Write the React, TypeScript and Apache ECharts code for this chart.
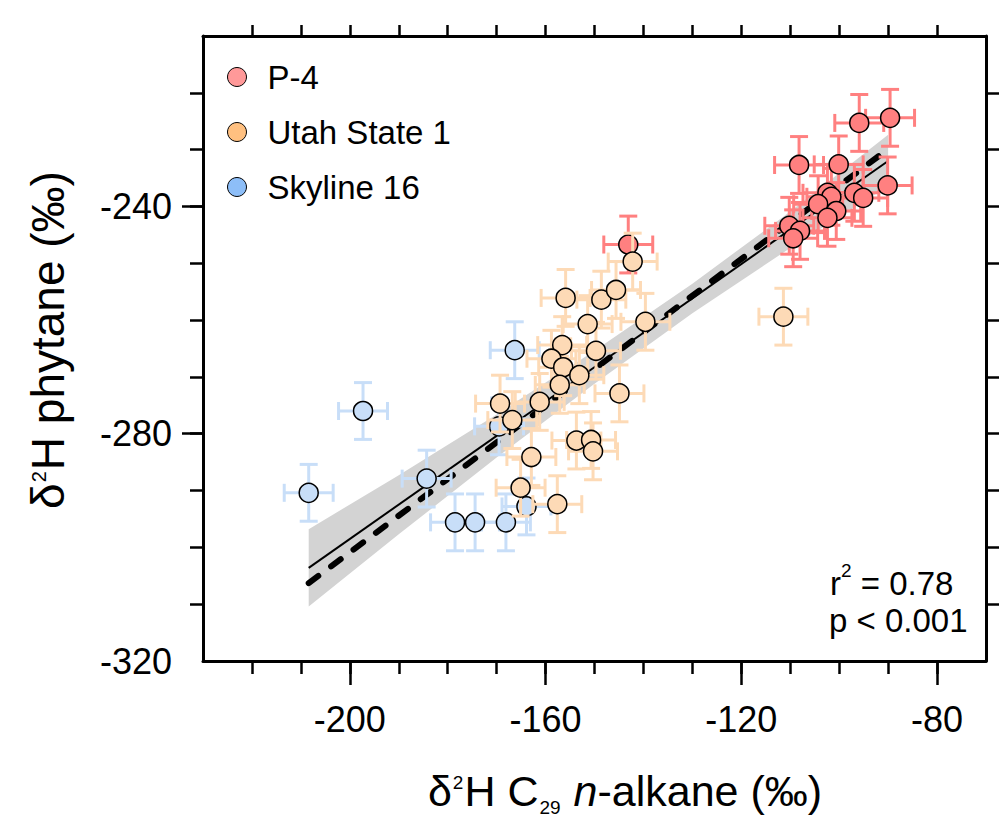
import React, { useEffect, useRef } from "react";
import * as echarts from "echarts";

// ---- data ----
const p4X = [-95.9, -89.6, -108.2, -100.1, -90.1, -102.4, -101.6, -96.9, -95.1, -104.3, -100.6, -102.4, -110.2, -108.0, -109.4, -143.1];
const p4Y = [-225.3, -224.4, -232.7, -232.6, -236.3, -237.6, -238.3, -237.6, -238.5, -239.6, -240.8, -242.0, -243.4, -244.3, -245.6, -246.7];

const utahX = [-142.2, -155.9, -148.6, -145.6, -151.4, -139.6, -156.6, -149.7, -158.8, -156.4, -153.1, -157.1, -144.9, -161.2, -169.3, -166.8, -153.7, -150.7, -150.3, -162.9, -165.1, -157.6, -111.4];
const utahY = [-249.7, -256.1, -256.4, -254.7, -260.7, -260.3, -264.4, -265.4, -266.8, -268.3, -269.7, -271.4, -272.9, -274.4, -274.7, -277.6, -281.2, -281.1, -283.1, -284.1, -289.5, -292.4, -259.4];

const skyX = [-166.3, -197.3, -208.4, -184.3, -178.5, -174.4, -168.1, -163.9, -169.5];
const skyY = [-265.3, -276.0, -290.4, -287.9, -295.6, -295.6, -295.6, -292.8, -278.7];

const ERR_X = 5;
const ERR_Y = 5;

const solidX = [-208.4, -90.0];
const solidY = [-303.6, -232.0];
const dashX = [-208.4, -90.0];
const dashY = [-306.3, -229.9];

const bandX = [-208.4, -190, -170, -150, -130, -110, -90];
const bandUpper = [-296.8, -287.3, -276.6, -265.4, -253.6, -240.9, -227.4];
const bandLower = [-310.4, -297.7, -284.2, -271.2, -258.8, -247.3, -236.4];

const X_MIN = -230, X_MAX = -70, Y_MIN = -320, Y_MAX = -210;
const xMinorTicks = [-220, -210, -200, -190, -180, -170, -160, -150, -140, -130, -120, -110, -100, -90, -80];
const xMajorTicks = [-200, -160, -120, -80];
const xLabels = [-200, -160, -120, -80];
const yMinorTicks = [-310, -300, -290, -280, -270, -260, -250, -240, -230, -220];
const yMajorTicks = [-280, -240];
const yLabels = [-320, -280, -240];

const seriesNames = ["P-4", "Utah State 1", "Skyline 16"];

const FONT = "'Liberation Sans', Arial, sans-serif";

const errRender = (color: string) => (params: any, api: any) => {
  const x = api.value(0), y = api.value(1);
  const l = api.coord([x - ERR_X, y]);
  const r = api.coord([x + ERR_X, y]);
  const t = api.coord([x, y + ERR_Y]);
  const b = api.coord([x, y - ERR_Y]);
  const cap = 9;
  const st = { stroke: color, lineWidth: 3 };
  return {
    type: "group",
    children: [
      { type: "line", shape: { x1: l[0], y1: l[1], x2: r[0], y2: r[1] }, style: st },
      { type: "line", shape: { x1: l[0], y1: l[1] - cap, x2: l[0], y2: l[1] + cap }, style: st },
      { type: "line", shape: { x1: r[0], y1: r[1] - cap, x2: r[0], y2: r[1] + cap }, style: st },
      { type: "line", shape: { x1: t[0], y1: t[1], x2: b[0], y2: b[1] }, style: st },
      { type: "line", shape: { x1: t[0] - cap, y1: t[1], x2: t[0] + cap, y2: t[1] }, style: st },
      { type: "line", shape: { x1: b[0] - cap, y1: b[1], x2: b[0] + cap, y2: b[1] }, style: st },
    ],
  };
};

const pairs = (xs: number[], ys: number[]) => xs.map((x, i) => [x, ys[i]]);

export default function App() {
  const ref = useRef<HTMLDivElement>(null);
  useEffect(() => {
    if (!ref.current) return;
    const chart = echarts.init(ref.current, null, { renderer: "svg" });

    const axisLineStyle = { color: "#000", width: 3 };
    const tickStyle = { color: "#000", width: 2.5 };

    const option: any = {
      animation: false,
      backgroundColor: "#fff",
      grid: { left: 203, top: 36, width: 783, height: 625, containLabel: false },
      xAxis: [
        {
          type: "value", position: "bottom", min: X_MIN, max: X_MAX,
          axisLine: { show: true, lineStyle: axisLineStyle },
          axisTick: { show: true, customValues: xMinorTicks, length: 13, lineStyle: tickStyle },
          axisLabel: { show: true, customValues: xLabels, fontSize: 36, fontFamily: FONT, color: "#000", margin: 40 },
          splitLine: { show: false },
        },
        {
          type: "value", position: "bottom", min: X_MIN, max: X_MAX,
          axisLine: { show: false },
          axisTick: { show: true, customValues: xMajorTicks, length: 24, lineStyle: tickStyle },
          axisLabel: { show: false },
          splitLine: { show: false },
        },
        {
          type: "value", position: "top", min: X_MIN, max: X_MAX,
          axisLine: { show: true, lineStyle: axisLineStyle },
          axisTick: { show: true, customValues: xMinorTicks, length: 11, lineStyle: tickStyle },
          axisLabel: { show: false },
          splitLine: { show: false },
        },
      ],
      yAxis: [
        {
          type: "value", position: "left", min: Y_MIN, max: Y_MAX,
          axisLine: { show: true, lineStyle: axisLineStyle },
          axisTick: { show: true, customValues: yMinorTicks, length: 13, lineStyle: tickStyle },
          axisLabel: { show: true, customValues: yLabels, fontSize: 36, fontFamily: FONT, color: "#000", margin: 31 },
          splitLine: { show: false },
        },
        {
          type: "value", position: "left", min: Y_MIN, max: Y_MAX,
          axisLine: { show: false },
          axisTick: { show: true, customValues: yMajorTicks, length: 21, lineStyle: tickStyle },
          axisLabel: { show: false },
          splitLine: { show: false },
        },
        {
          type: "value", position: "right", min: Y_MIN, max: Y_MAX,
          axisLine: { show: true, lineStyle: axisLineStyle },
          axisTick: { show: true, customValues: yMinorTicks, length: 13, lineStyle: tickStyle },
          axisLabel: { show: false },
          splitLine: { show: false },
        },
      ],
      legend: {
        orient: "vertical", left: 222, top: 53, itemWidth: 19, itemHeight: 19, itemGap: 17,
        icon: "circle",
        textStyle: { fontSize: 33, fontFamily: FONT, color: "#000", padding: [0, 0, 0, 16], lineHeight: 38 },
        data: [
          { name: seriesNames[0], itemStyle: { color: "#FF9999", borderColor: "#000", borderWidth: 1 } },
          { name: seriesNames[1], itemStyle: { color: "#FFC080", borderColor: "#000", borderWidth: 1 } },
          { name: seriesNames[2], itemStyle: { color: "#8DBEF8", borderColor: "#000", borderWidth: 1 } },
        ],
      },
      graphic: [
        {
          type: "text", x: 625, y: 791,
          style: {
            text: "δ{sup|2}H C{sub|29} {it|n}-alkane (‰)",
            fontSize: 43, fontFamily: FONT, fill: "#000", align: "center", verticalAlign: "middle", lineHeight: 52,
            rich: {
              sup: { fontSize: 19, lineHeight: 19, verticalAlign: "top", padding: [8, 1, 0, 1], fontFamily: FONT },
              sub: { fontSize: 19, lineHeight: 19, verticalAlign: "bottom", padding: [0, 1, 0, 1], fontFamily: FONT },
              it: { fontSize: 43, lineHeight: 52, fontStyle: "italic", fontFamily: FONT },
            },
          },
        },
        {
          type: "text", x: 48, y: 340, rotation: Math.PI / 2,
          style: {
            text: "δ{sup|2}H phytane (‰)",
            fontSize: 46, fontFamily: FONT, fill: "#000", align: "center", verticalAlign: "middle", lineHeight: 54,
            rich: {
              sup: { fontSize: 20, lineHeight: 20, verticalAlign: "top", padding: [8, 1, 0, 1], fontFamily: FONT },
            },
          },
        },
        {
          type: "text", x: 830, y: 583,
          style: {
            text: "r{sup|2} = 0.78",
            fontSize: 33, fontFamily: FONT, fill: "#000", align: "left", verticalAlign: "middle", lineHeight: 44,
            rich: { sup: { fontSize: 19, lineHeight: 19, verticalAlign: "top", fontFamily: FONT } },
          },
        },
        {
          type: "text", x: 829, y: 620,
          style: { text: "p < 0.001", fontSize: 33, fontFamily: FONT, fill: "#000", align: "left", verticalAlign: "middle" },
        },
      ],
      series: [
        {
          type: "custom", name: "band", z: 1, silent: true,
          data: [[bandX[0], bandUpper[0]]],
          renderItem: (params: any, api: any) => {
            const pts: number[][] = [];
            bandX.forEach((x, i) => pts.push(api.coord([x, bandUpper[i]])));
            for (let i = bandX.length - 1; i >= 0; i--) pts.push(api.coord([bandX[i], bandLower[i]]));
            return { type: "polygon", shape: { points: pts }, style: { fill: "#D3D3D3" } };
          },
        },
        {
          type: "line", name: "fit-solid", z: 2, symbol: "none", silent: true,
          data: pairs(solidX, solidY),
          lineStyle: { color: "#000", width: 2 },
        },
        {
          type: "line", name: "fit-dashed", z: 2, symbol: "none", silent: true,
          data: pairs(dashX, dashY),
          lineStyle: { color: "#000", width: 6, type: [12, 16], cap: "round" },
        },
        { type: "custom", name: "sky-err", z: 3, data: pairs(skyX, skyY), renderItem: errRender("#C8DEF8") },
        {
          type: "scatter", name: seriesNames[2], z: 4, symbolSize: 19, data: pairs(skyX, skyY),
          itemStyle: { color: "#C8DEF8", borderColor: "#000", borderWidth: 1.5, opacity: 1 },
        },
        { type: "custom", name: "p4-err", z: 5, data: pairs(p4X, p4Y), renderItem: errRender("#FF8080") },
        {
          type: "scatter", name: seriesNames[0], z: 6, symbolSize: 19, data: pairs(p4X, p4Y),
          itemStyle: { color: "#FF8080", borderColor: "#000", borderWidth: 1.5, opacity: 1 },
        },
        { type: "custom", name: "utah-err", z: 7, data: pairs(utahX, utahY), renderItem: errRender("#FDDAB6") },
        {
          type: "scatter", name: seriesNames[1], z: 8, symbolSize: 19, data: pairs(utahX, utahY),
          itemStyle: { color: "#FDDAB6", borderColor: "#000", borderWidth: 1.5, opacity: 1 },
        },
      ],
    };
    chart.setOption(option);
    return () => chart.dispose();
  }, []);
  return <div ref={ref} style={{ position: "fixed", left: 0, top: 0, width: 1004, height: 823, background: "#fff" }} />;
}
